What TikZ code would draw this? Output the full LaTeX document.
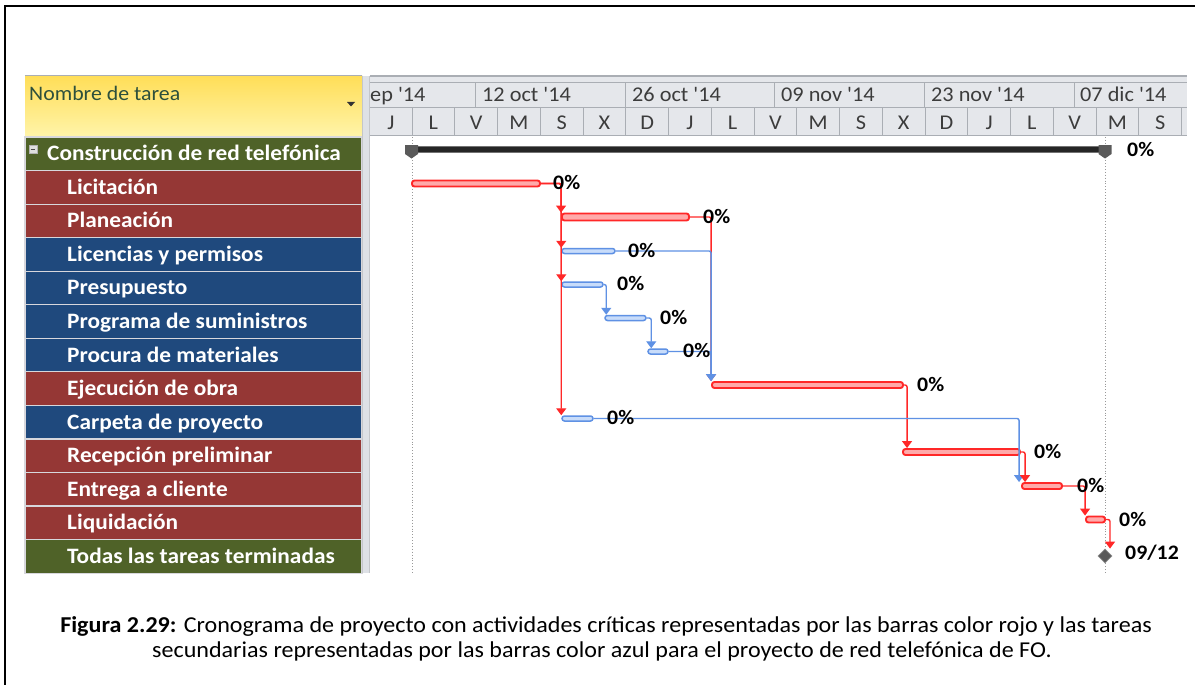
\documentclass[tikz,border=0pt]{standalone}
\usepackage{fontspec}
\setmainfont{Carlito}[FakeStretch=1.06,Ligatures=TeXOff]
\usetikzlibrary{arrows.meta,shapes.geometric}
\definecolor{rowred}{RGB}{149,55,53}
\definecolor{rowblue}{RGB}{31,73,125}
\definecolor{rowgreen}{RGB}{79,98,40}
\definecolor{rowsep}{RGB}{215,215,220}
\definecolor{critred}{RGB}{255,40,40}
\definecolor{critfill}{RGB}{255,170,170}
\definecolor{secblue}{RGB}{95,145,228}
\definecolor{secfill}{RGB}{200,220,250}
\definecolor{scalebg}{RGB}{229,231,235}
\definecolor{scaleline}{RGB}{170,174,180}
\definecolor{scaletext}{RGB}{60,60,60}
\definecolor{headtop}{RGB}{255,222,88}
\definecolor{headbot}{RGB}{255,244,170}
\definecolor{headtext}{RGB}{45,80,60}
\definecolor{sepgrey}{RGB}{222,225,230}
\definecolor{capgrey}{RGB}{90,90,90}
\tikzset{
  rowbox/.style={rectangle, minimum width=337pt, minimum height=33.55pt, inner sep=0pt, draw=rowsep, line width=1.2pt},
  rowtext/.style={anchor=base west, inner sep=0pt, text=white, font=\fontsize{22}{24}\selectfont\bfseries},
  scaletxt/.style={anchor=base west, inner sep=0pt, text=scaletext, font=\fontsize{21}{24}\selectfont},
  daytxt/.style={anchor=base, inner sep=0pt, text=scaletext, font=\fontsize{21}{24}\selectfont},
  redbar/.style={rectangle, rounded corners=2.5pt, draw=critred, fill=critfill, line width=1.9pt, minimum height=6pt, inner sep=0pt},
  bluebar/.style={rectangle, rounded corners=2.5pt, draw=secblue, fill=secfill, line width=1.5pt, minimum height=5pt, inner sep=0pt},
  critlink/.style={draw=critred, line width=1.4pt, rounded corners=2pt, -{Triangle[width=10pt,length=7pt]}},
  seclink/.style={draw=secblue, line width=1.4pt, rounded corners=2pt, -{Triangle[width=10pt,length=7pt]}},
  pct/.style={anchor=base west, inner sep=0pt, text=black, font=\fontsize{20.6}{24}\selectfont\bfseries},
  captxt/.style={anchor=base, inner sep=0pt, text=black, font=\fontsize{22.7}{26}\selectfont},
}
\begin{document}
\begin{tikzpicture}[x=1pt,y=-1pt]
\useasboundingbox (0,0) rectangle (1195,685);
\fill[white] (0,0) rectangle (1195,685);
% frame
\draw[line width=2.5pt] (5.2,686) -- (5.2,6.2) -- (1196,6.2);
% header of table
\shade[top color=headtop, bottom color=headbot] (25,76) rectangle (362,137);
\draw[scaleline, line width=1pt] (25,76) -- (362,76);
\draw[rowsep!70!orange, line width=1pt] (25,136.5) -- (362,136.5);
\node[anchor=base west, inner sep=0pt, text=headtext, font=\fontsize{20.6}{24}\selectfont] (hdr) at (29,100) {Nombre de tarea};
\fill[black!80] (347,102) -- (355,102) -- (351,106.5) -- cycle;
% rows
\node[rowbox, fill=rowgreen] (row0) at (193.5,153.8) {};
\node[rectangle, minimum size=8pt, inner sep=0pt, fill=gray!25, draw=gray!60, line width=0.8pt] (coll) at (33,149) {};
\draw[black!70, line width=1pt] ([xshift=-2.3pt]coll.center) -- ([xshift=2.3pt]coll.center);
\node[rowtext] (rowt0) at (47,160.8) {Construcción de red telefónica};
\foreach \i/\c/\t in {1/rowred/Licitación, 2/rowred/Planeación, 3/rowblue/Licencias y permisos, 4/rowblue/Presupuesto, 5/rowblue/Programa de suministros, 6/rowblue/Procura de materiales, 7/rowred/Ejecución de obra, 8/rowblue/Carpeta de proyecto, 9/rowred/Recepción preliminar, 10/rowred/Entrega a cliente, 11/rowred/Liquidación, 12/rowgreen/Todas las tareas terminadas}{
  \node[rowbox, fill=\c] (row\i) at (193.5,{137+33.55*(\i+0.5)}) {};
  \node[rowtext] (rowt\i) at (67,{137+33.55*(\i+0.5)+7}) {\t};
}
% separator
\fill[sepgrey] (362,76) rectangle (370,573);
\draw[scaleline!70, line width=0.8pt] (362.5,76) -- (362.5,573) (369.5,76) -- (369.5,573);
% timescale
\fill[scalebg] (370,76) rectangle (1187,135);
\draw[scaleline, line width=1.2pt] (370,76) -- (1187,76);
\draw[scaleline, line width=1pt] (370,83) -- (1187,83) (370,108) -- (1187,108) (370,135) -- (1187,135);
\foreach \xx in {475.6,625.2,774.8,924.4,1074}{
  \draw[scaleline, line width=1pt] (\xx,83) -- (\xx,108);
}
\foreach \k in {0,...,18}{
  \draw[scaleline, line width=1pt] ({412+42.75*\k},108) -- ({412+42.75*\k},135);
}
\foreach \t/\xx [count=\n] in {ep '14/370, 12 oct '14/482, 26 oct '14/632, 09 nov '14/781, 23 nov '14/931, 07 dic '14/1080}{
  \node[scaletxt] (mon\n) at (\xx,101.5) {\t};
}
\node[daytxt] (day0) at (391,129.5) {J};
\foreach \l [count=\k from 0] in {L,V,M,S,X,D,J,L,V,M,S,X,D,J,L,V,M,S}{
  \node[daytxt] (day\l\k) at ({412+42.75*(\k+0.5)},129.5) {\l};
}
% dotted guides
\draw[gray!80, dotted, line width=0.9pt] (412,137) -- (412,573);
\draw[gray!80, dotted, line width=0.9pt] (1105,137) -- (1105,573);
% summary bar
\node[rectangle, minimum width=693pt, minimum height=6.5pt, inner sep=0pt, fill=black!85, draw=black!55, line width=1.2pt] (sum) at (758.5,149.5) {};
\fill[capgrey] (405,145) -- (418,145) -- (418,154) -- (411.5,158.5) -- (405,154) -- cycle;
\fill[capgrey] (1098.5,145) -- (1111.5,145) -- (1111.5,154) -- (1105,158.5) -- (1098.5,154) -- cycle;
% task bars
\node[redbar, minimum width=128pt] (lic) at (476,183.5) {};
\node[redbar, minimum width=127pt, minimum height=7pt] (pla) at (625.5,217) {};
\node[bluebar, minimum width=53pt] (licp) at (588.5,251) {};
\node[bluebar, minimum width=41pt] (pre) at (582.5,284.5) {};
\node[bluebar, minimum width=41pt] (prog) at (625.5,318) {};
\node[bluebar, minimum width=20pt] (proc) at (658,351.5) {};
\node[redbar, minimum width=191pt] (eje) at (807.5,385) {};
\node[bluebar, minimum width=31pt] (car) at (577.5,418.5) {};
\node[redbar, minimum width=117pt] (rec) at (961.5,452) {};
\node[redbar, minimum width=40pt] (ent) at (1042,486) {};
\node[redbar, minimum width=19pt] (liq) at (1095.5,519.5) {};
\node[diamond, minimum size=14pt, inner sep=0pt, fill=black!65, draw=black!45, line width=0.8pt] (ms) at (1105,556) {};
% links
\draw[critlink] (lic.east) -| (pla.north west);
\draw[critlink] (lic.east) -| (licp.north west);
\draw[critlink] (lic.east) -| (pre.north west);
\draw[critlink] (lic.east) -| (car.north west);
\draw[critlink] (pla.east) -| (eje.north west);
\draw[seclink] (licp.east) -| (eje.north west);
\draw[seclink] (proc.east) -| (eje.north west);
\draw[seclink] (pre.east) -| ([xshift=2pt]prog.north west);
\draw[seclink] (prog.east) -| ([xshift=4pt]proc.north west);
\draw[critlink] (eje.east) -| ([xshift=5pt]rec.north west);
\draw[seclink] (car.east) -| ([xshift=-2pt]ent.north west);
\draw[critlink] (rec.east) -| ([xshift=4pt]ent.north west);
\draw[critlink] (ent.east) -| (liq.north west);
\draw[critlink] (liq.east) -| ([xshift=5pt]ms.north);
% labels
\node[pct] (psum) at (1127,157) {0\%};
\node[pct] (plic) at (553,189.5) {0\%};
\node[pct] (ppla) at (703,223.5) {0\%};
\node[pct] (plicp) at (628,257) {0\%};
\node[pct] (ppre) at (617,290) {0\%};
\node[pct] (pprog) at (660,324) {0\%};
\node[pct] (pproc) at (683,357.5) {0\%};
\node[pct] (peje) at (917,391) {0\%};
\node[pct] (pcar) at (607,424.5) {0\%};
\node[pct] (prec) at (1034,458.5) {0\%};
\node[pct] (pent) at (1077,492.5) {0\%};
\node[pct] (pliq) at (1119,526) {0\%};
\node[pct] (pms) at (1125,559) {09/12};
% caption
\node[captxt] (cap1) at (606,632) {\textbf{Figura 2.29:} Cronograma de proyecto con actividades críticas representadas por las barras color rojo y las tareas};
\node[captxt] (cap2) at (602,657) {secundarias representadas por las barras color azul para el proyecto de red telefónica de FO.};
\end{tikzpicture}
\end{document}
